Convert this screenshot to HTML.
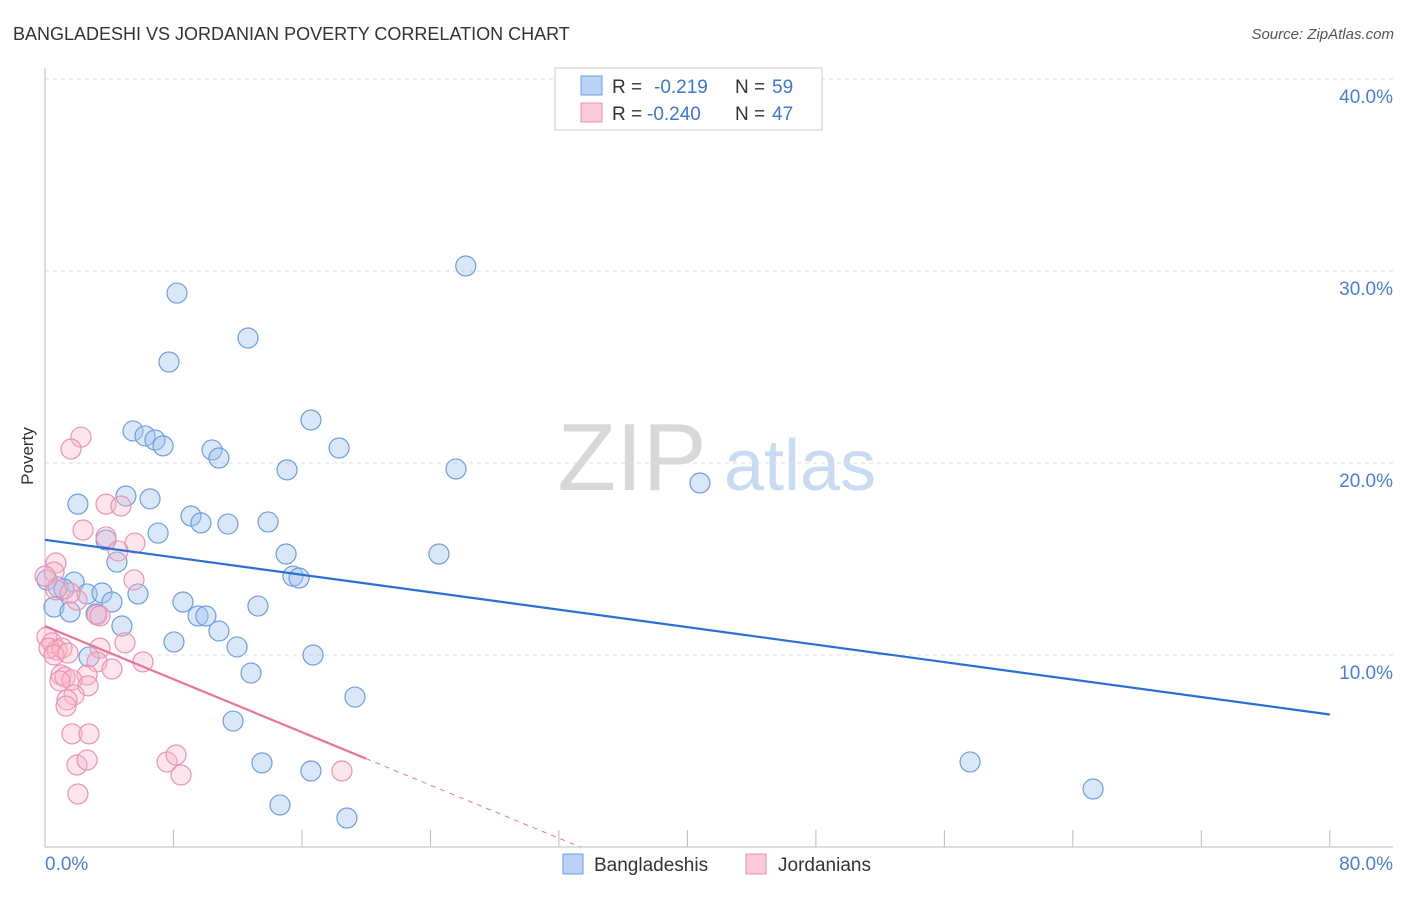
<!DOCTYPE html>
<html><head><meta charset="utf-8"><style>
body{margin:0;background:#fff;font-family:"Liberation Sans",sans-serif}
svg text{font-family:"Liberation Sans",sans-serif}
</style></head><body>
<svg id="chart" width="1406" height="892" xmlns="http://www.w3.org/2000/svg">
<text x="13" y="40" font-size="18" fill="#333">BANGLADESHI VS JORDANIAN POVERTY CORRELATION CHART</text>
<text x="1394" y="39" font-size="15" fill="#555" text-anchor="end" font-style="italic">Source: ZipAtlas.com</text>
<g>
<text x="632" y="490" font-size="96" fill="#d8d8d8" font-family="Liberation Serif" text-anchor="middle">ZIP</text>
<text x="800" y="490" font-size="72" fill="#c9dbf2" text-anchor="middle">atlas</text>
</g>
<g id="grid"></g><g id="axes"></g><g id="marks"></g>
<text transform="translate(33,456) rotate(-90)" font-size="17" fill="#333" text-anchor="middle">Poverty</text>
<g>
<rect x="555" y="68" width="267" height="62" fill="#fff" stroke="#ccc"/>
<rect x="581" y="76" width="21" height="19" fill="#b9d3f5" stroke="#6d9ee0"/>
<text x="612" y="93" font-size="19" fill="#333">R = </text><text x="654" y="93" font-size="19" fill="#3f76cf">-0.219</text>
<text x="735" y="93" font-size="19" fill="#333">N = </text><text x="772" y="93" font-size="19" fill="#3f76cf">59</text>
<rect x="581" y="103" width="21" height="19" fill="#fbc9d8" stroke="#ec93b0"/>
<text x="612" y="120" font-size="19" fill="#333">R = </text><text x="647" y="120" font-size="19" fill="#3f76cf">-0.240</text>
<text x="735" y="120" font-size="19" fill="#333">N = </text><text x="772" y="120" font-size="19" fill="#3f76cf">47</text>
</g>
<g>
<rect x="563" y="854" width="20" height="20" fill="#b9d3f5" stroke="#6d9ee0"/>
<text x="594" y="871" font-size="19" fill="#333">Bangladeshis</text>
<rect x="746" y="854" width="20" height="20" fill="#fbc9d8" stroke="#ec93b0"/>
<text x="778" y="871" font-size="19" fill="#333">Jordanians</text>
</g>
</svg>
<script>
const blueX=[8.22,26.2,12.64,7.72,5.48,6.23,6.85,7.35,16.56,18.31,10.4,10.83,15.07,25.59,40.78,5.04,6.54,2.05,9.09,9.71,11.39,13.89,7.04,3.8,4.48,15.01,24.53,15.44,15.82,0.12,0.81,1.81,1.18,2.62,3.55,5.79,4.17,8.59,9.53,10.02,13.26,0.56,1.56,3.18,4.79,10.83,11.96,8.03,16.69,2.74,12.83,19.3,11.71,13.51,57.6,16.56,65.26,14.63,18.8];
const blueY=[28.85,30.26,26.51,25.26,21.67,21.41,21.2,20.89,22.24,20.78,20.68,20.26,19.64,19.69,18.96,18.28,18.13,17.86,17.24,16.88,16.82,16.93,16.35,15.99,14.84,15.26,15.26,14.11,14.01,13.91,13.54,13.8,13.44,13.18,13.23,13.18,12.76,12.76,12.03,12.03,12.55,12.5,12.24,12.14,11.51,11.25,10.42,10.68,10.0,9.9,9.06,7.81,6.56,4.38,4.43,3.96,3.02,2.19,1.51];
const pinkX=[2.24,1.62,2.37,3.8,4.73,3.8,5.6,4.55,0.68,0.56,5.54,0.68,1.99,3.24,3.42,0.12,0.44,0.75,0.25,1.06,0.56,1.43,3.42,4.98,3.24,6.1,4.17,1.0,1.25,2.62,1.68,2.68,1.81,1.37,1.31,1.68,2.74,1.99,2.62,7.6,8.16,8.47,2.05,18.49,1.56,0.0,0.93];
const pinkY=[21.35,20.73,16.51,17.86,17.76,16.15,15.83,15.42,14.79,14.32,13.91,13.39,12.86,12.08,12.03,10.94,10.63,10.26,10.36,10.36,10.0,10.1,10.36,10.63,9.64,9.64,9.27,8.96,8.85,8.96,8.7,8.39,7.92,7.66,7.34,5.89,5.89,4.27,4.53,4.43,4.79,3.75,2.76,3.96,13.23,14.11,8.65];
const blueTrend=[0,16.0,80,6.9];
const pinkTrend=[0,11.5,20,4.6];
const yTicks=[10,20,30,40];
const yTickLabels=["10.0%","20.0%","30.0%","40.0%"];
const xTicks=[0,8,16,24,32,40,48,56,64,72,80];
const NS="http://www.w3.org/2000/svg";
const sx=v=>45+v*16.06, sy=v=>847-v*19.2;
function mk(parent,tag,attrs){const e=document.createElementNS(NS,tag);for(const k in attrs)e.setAttribute(k,attrs[k]);parent.appendChild(e);return e;}
const grid=document.getElementById('grid'),axes=document.getElementById('axes'),marks=document.getElementById('marks');
yTicks.forEach((t,i)=>{
 const l=mk(grid,'line',{x1:45,x2:1393,y1:sy(t),y2:sy(t),stroke:'#ddd','stroke-dasharray':'4,4'});
 
 
 const tx=mk(axes,'text',{x:1393,y:sy(t)+24,'font-size':19,fill:'#4a7fd4','text-anchor':'end'});
 tx.textContent=yTickLabels[i];
 
 
});
xTicks.forEach(t=>{
 const l=mk(axes,'line',{x1:sx(t),x2:sx(t),y1:830,y2:847,stroke:'#bbb'});
 
 
});
let a=mk(axes,'line',{x1:45,x2:1393,y1:847,y2:847,stroke:'#bbb'});


a=mk(axes,'line',{x1:45,x2:45,y1:68,y2:847,stroke:'#bbb'});


[["0.0%",45,'start'],["80.0%",1393,'end']].forEach(d=>{
 const tx=mk(axes,'text',{x:d[1],y:870,'font-size':19,fill:'#4a7fd4','text-anchor':d[2]});
 tx.textContent=d[0];
 
 
});
blueX.forEach((x,i)=>{
 const c=mk(marks,'circle',{cx:sx(x),cy:sy(blueY[i]),r:10,fill:'rgba(160,196,240,0.4)',stroke:'#6d9ee0','stroke-width':1.2});
 
 
});
pinkX.forEach((x,i)=>{
 const c=mk(marks,'circle',{cx:sx(x),cy:sy(pinkY[i]),r:10,fill:'rgba(248,180,200,0.35)',stroke:'#ec93b0','stroke-width':1.2});
 
 
});
let t=mk(marks,'line',{x1:sx(blueTrend[0]),y1:sy(blueTrend[1]),x2:sx(blueTrend[2]),y2:sy(blueTrend[3]),stroke:'#2a6fd6','stroke-width':2.2});


const slope=(pinkTrend[3]-pinkTrend[1])/(pinkTrend[2]-pinkTrend[0]);
const x0=pinkTrend[0]-pinkTrend[1]/slope;
t=mk(marks,'line',{x1:sx(pinkTrend[2]),y1:sy(pinkTrend[3]),x2:sx(x0),y2:sy(0),stroke:'#e8749a','stroke-width':1,'stroke-dasharray':'5,5'});


t=mk(marks,'line',{x1:sx(pinkTrend[0]),y1:sy(pinkTrend[1]),x2:sx(pinkTrend[2]),y2:sy(pinkTrend[3]),stroke:'#e8749a','stroke-width':2.2});


</script>
</body></html>
